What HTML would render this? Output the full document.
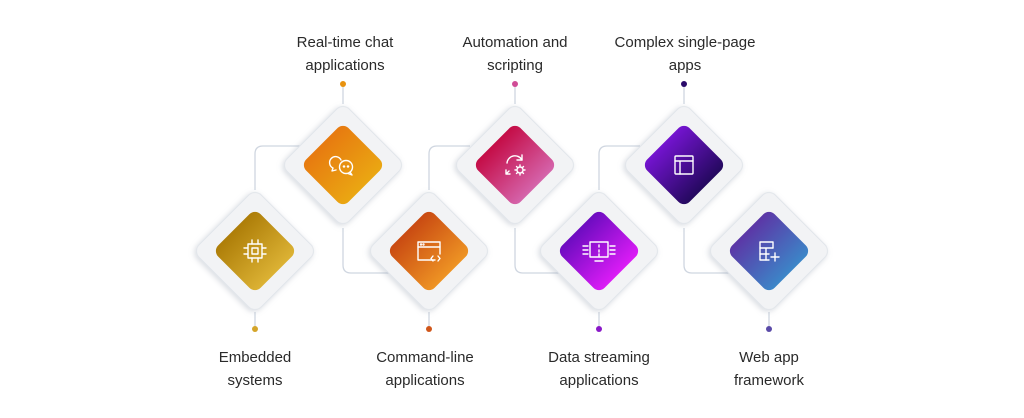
<!DOCTYPE html>
<html><head><meta charset="utf-8"><style>
html,body{margin:0;padding:0;background:#fff;}
svg{display:block;}
text{font-family:"Liberation Sans",sans-serif;font-size:15px;fill:#2a2a2a;text-anchor:middle;}
</style></head><body>
<svg width="1024" height="418" viewBox="0 0 1024 418" xmlns="http://www.w3.org/2000/svg">
<defs>
<filter id="sh" x="-30%" y="-30%" width="160%" height="160%"><feDropShadow dx="0" dy="2" stdDeviation="3" flood-color="#8a94a6" flood-opacity="0.35"/></filter>
<linearGradient id="g0" x1="0" y1="0" x2="1" y2="0"><stop offset="0" stop-color="#ad7d08"/><stop offset="1" stop-color="#dcb234"/></linearGradient>
<linearGradient id="g1" x1="0" y1="0" x2="1" y2="0"><stop offset="0" stop-color="#e77a10"/><stop offset="1" stop-color="#eaa712"/></linearGradient>
<linearGradient id="g2" x1="0" y1="0" x2="1" y2="0"><stop offset="0" stop-color="#c94a12"/><stop offset="1" stop-color="#ee9424"/></linearGradient>
<linearGradient id="g3" x1="0" y1="0" x2="1" y2="0"><stop offset="0" stop-color="#c40c46"/><stop offset="1" stop-color="#d564ab"/></linearGradient>
<linearGradient id="g4" x1="0" y1="0" x2="1" y2="0"><stop offset="0" stop-color="#6c0cc0"/><stop offset="1" stop-color="#dc1cf6"/></linearGradient>
<linearGradient id="g5" x1="0" y1="0" x2="1" y2="0"><stop offset="0" stop-color="#7414d0"/><stop offset="1" stop-color="#24095e"/></linearGradient>
<linearGradient id="g6" x1="0" y1="0" x2="1" y2="0"><stop offset="0" stop-color="#5c36a6"/><stop offset="1" stop-color="#3c86c8"/></linearGradient>
</defs>
<g fill="none" stroke="#cfd6e0" stroke-width="1.3">
<path d="M255 190 V154 Q255 146 263 146 H300"/>
<path d="M343 228 V265 Q343 273 351 273 H390"/>
<path d="M429 190 V154 Q429 146 437 146 H470"/>
<path d="M515 228 V265 Q515 273 523 273 H560"/>
<path d="M599 190 V154 Q599 146 607 146 H640"/>
<path d="M684 228 V265 Q684 273 692 273 H730"/>
<line x1="343" y1="84" x2="343" y2="104"/><line x1="515" y1="84" x2="515" y2="104"/><line x1="684" y1="84" x2="684" y2="104"/>
<line x1="255" y1="312" x2="255" y2="329"/><line x1="429" y1="312" x2="429" y2="329"/><line x1="599" y1="312" x2="599" y2="329"/><line x1="769" y1="312" x2="769" y2="329"/>
</g>
<circle cx="343" cy="84" r="3" fill="#e8920f"/><circle cx="515" cy="84" r="3" fill="#d04c96"/><circle cx="684" cy="84" r="3" fill="#2a0a6a"/>
<circle cx="255" cy="329" r="3" fill="#d4a52a"/><circle cx="429" cy="329" r="3" fill="#d0561a"/><circle cx="599" cy="329" r="3" fill="#8a18c8"/><circle cx="769" cy="329" r="3" fill="#5a4aa8"/>

<g transform="translate(255 251) rotate(45)"><rect x="-44" y="-44" width="88" height="88" rx="9" fill="#f2f3f5" stroke="#e1e5ea" filter="url(#sh)"/><rect x="-30" y="-30" width="60" height="60" rx="8" fill="url(#g0)"/></g>
<g transform="translate(343 165) rotate(45)"><rect x="-44" y="-44" width="88" height="88" rx="9" fill="#f2f3f5" stroke="#e1e5ea" filter="url(#sh)"/><rect x="-30" y="-30" width="60" height="60" rx="8" fill="url(#g1)"/></g>
<g transform="translate(429 251) rotate(45)"><rect x="-44" y="-44" width="88" height="88" rx="9" fill="#f2f3f5" stroke="#e1e5ea" filter="url(#sh)"/><rect x="-30" y="-30" width="60" height="60" rx="8" fill="url(#g2)"/></g>
<g transform="translate(515 165) rotate(45)"><rect x="-44" y="-44" width="88" height="88" rx="9" fill="#f2f3f5" stroke="#e1e5ea" filter="url(#sh)"/><rect x="-30" y="-30" width="60" height="60" rx="8" fill="url(#g3)"/></g>
<g transform="translate(599 251) rotate(45)"><rect x="-44" y="-44" width="88" height="88" rx="9" fill="#f2f3f5" stroke="#e1e5ea" filter="url(#sh)"/><rect x="-30" y="-30" width="60" height="60" rx="8" fill="url(#g4)"/></g>
<g transform="translate(684 165) rotate(45)"><rect x="-44" y="-44" width="88" height="88" rx="9" fill="#f2f3f5" stroke="#e1e5ea" filter="url(#sh)"/><rect x="-30" y="-30" width="60" height="60" rx="8" fill="url(#g5)"/></g>
<g transform="translate(769 251) rotate(45)"><rect x="-44" y="-44" width="88" height="88" rx="9" fill="#f2f3f5" stroke="#e1e5ea" filter="url(#sh)"/><rect x="-30" y="-30" width="60" height="60" rx="8" fill="url(#g6)"/></g>

<g fill="none" stroke="#fff" stroke-width="1.4" stroke-linecap="round" stroke-linejoin="round">
<g transform="translate(255 251)"><rect x="-7" y="-7" width="14" height="14"/><rect x="-3" y="-3" width="6" height="6"/>
<path d="M-3 -7v-4M3 -7v-4M-3 7v4M3 7v4M-7 -3h-4M-7 3h-4M7 -3h4M7 3h4"/></g>
<g transform="translate(343 165)"><path d="M-2 -5 A6 6 0 1 0 -10 3 L-11 6 L-7 5"/><circle cx="3" cy="2" r="6.5"/><path d="M7 7 L9 10 L5 8.5"/><circle cx="1" cy="1.5" r="0.6" fill="#fff"/><circle cx="5" cy="1.5" r="0.6" fill="#fff"/></g>
<g transform="translate(429 251)"><path d="M6 9H-11V-9H11V3"/><path d="M-11 -4H11"/><circle cx="-8" cy="-6.5" r="0.5"/><circle cx="-5.5" cy="-6.5" r="0.5"/><path d="M4 5l-2 2.5 2 2.5M9 5l2 2.5-2 2.5"/></g>
<g transform="translate(515 165)"><path d="M-8 -2 A8 8 0 0 1 7 -5"/><path d="M7 -10V-5H2"/><path d="M-6 6 L-9 9M-9 5V9H-5"/><circle cx="5" cy="5" r="3"/><path d="M5 0v1.5M5 8.5v1.5M0 5h1.5M8.5 5h1.5M1.5 1.5l1 1M7.5 7.5l1 1M8.5 1.5l-1 1M2.5 7.5l-1 1"/></g>
<g transform="translate(599 251)"><rect x="-9" y="-9" width="18" height="15"/><path d="M-4 10h8M0 -6v2M0 -1v2M0 3v2"/><path d="M-16 -5h5M-16 -1h5M-16 3h5M11 -5h5M11 -1h5M11 3h5"/></g>
<g transform="translate(684 165)"><rect x="-9" y="-9" width="18" height="18" rx="1"/><path d="M-9 -4H9M-4 -4V9"/></g>
<g transform="translate(769 251)"><path d="M4 -3V-9H-9V9H0"/><path d="M-9 -3H4M-9 3H0M-3 -3V9"/><path d="M6 2v8M2 6h8"/></g>
</g>

<text x="345" y="47">Real-time chat</text><text x="345" y="70">applications</text>
<text x="515" y="47">Automation and</text><text x="515" y="70">scripting</text>
<text x="685" y="47">Complex single-page</text><text x="685" y="70">apps</text>
<text x="255" y="362">Embedded</text><text x="255" y="385">systems</text>
<text x="425" y="362">Command-line</text><text x="425" y="385">applications</text>
<text x="599" y="362">Data streaming</text><text x="599" y="385">applications</text>
<text x="769" y="362">Web app</text><text x="769" y="385">framework</text>
</svg>
</body></html>
